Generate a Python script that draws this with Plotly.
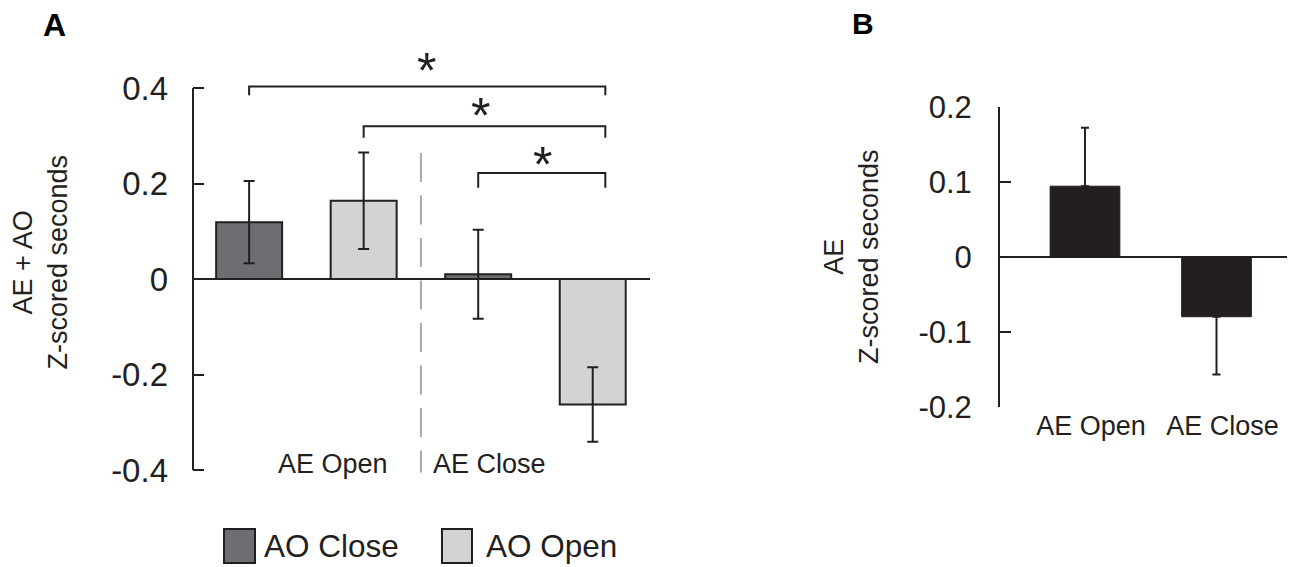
import plotly.graph_objects as go

# ---------------- data ----------------
groups = ["AE Open", "AE Close"]
ao_close = [0.119, 0.010]
ao_close_err = [0.086, 0.093]
ao_open = [0.164, -0.263]
ao_open_err = [0.101, 0.078]

b_categories = ["AE Open", "AE Close"]
b_values = [0.094, -0.080]
b_err_plus = [0.078, 0.0]
b_err_minus = [0.0, 0.077]

# significance brackets (left x, top y, drop y) in panel-A data coords
bracket_left = [-0.25, 0.25, 0.75]
bracket_right = 1.305
bracket_top = [0.403, 0.320, 0.222]
bracket_drop = [0.385, 0.296, 0.191]
star_x = [0.523, 0.759, 1.03]
star_y = [0.452, 0.358, 0.255]

yticks_a = [-0.4, -0.2, 0, 0.2, 0.4]
yticks_a_text = ["-0.4", "-0.2", "0", "0.2", "0.4"]
yticks_b = [-0.2, -0.1, 0, 0.1, 0.2]
yticks_b_text = ["-0.2", "-0.1", "0", "0.1", "0.2"]

# ---------------- style ----------------
INK = "#231f20"
DARK = "#6d6e71"
LIGHT = "#d1d3d4"
FONT = "Liberation Sans, Arial, Helvetica, sans-serif"
OFF = 8                      # default page body margin
W, H = 1295 - OFF, 567 - OFF  # figure size so that it fills the window


def px_x(p):
    return (p - OFF) / W


def px_y(p):
    return 1 - (p - OFF) / H


# panel A vertical mapping: value 0 at pixel 279, 477.5 px per unit
A_RANGE = [-0.41, 0.48]
A_TOP = 279 - A_RANGE[1] * 477.5
A_BOT = 279 - A_RANGE[0] * 477.5

fig = go.Figure()

fig.add_trace(go.Bar(
    name="AO Close", x=groups, y=ao_close,
    marker=dict(color=DARK, line=dict(color=INK, width=2)),
    error_y=dict(type="data", array=ao_close_err, color=INK, thickness=2, width=5.5),
    xaxis="x", yaxis="y", showlegend=False,
))
fig.add_trace(go.Bar(
    name="AO Open", x=groups, y=ao_open,
    marker=dict(color=LIGHT, line=dict(color=INK, width=2)),
    error_y=dict(type="data", array=ao_open_err, color=INK, thickness=2, width=5.5),
    xaxis="x", yaxis="y", showlegend=False,
))
fig.add_trace(go.Bar(
    name="AE", x=b_categories, y=b_values, width=0.53,
    marker=dict(color=INK, line=dict(color=INK, width=1)),
    error_y=dict(type="data", symmetric=False, array=b_err_plus, arrayminus=b_err_minus,
                 color=INK, thickness=2, width=4),
    xaxis="x2", yaxis="y2", showlegend=False,
))

shapes = []
# left axis line of panel A (from -0.4 to 0.4)
shapes.append(dict(type="line", xref="x domain", yref="y", x0=0, x1=0, y0=-0.4, y1=0.4,
                   line=dict(color=INK, width=2)))
# dashed divider (drawn top to bottom so the dash pattern starts at the top)
shapes.append(dict(type="line", xref="x", yref="y", x0=0.5, x1=0.5, y0=0.264, y1=-0.405,
                   line=dict(color="#a7a9ac", width=2, dash="29px,13.5px")))
# brackets
for xl, yt, yd in zip(bracket_left, bracket_top, bracket_drop):
    shapes.append(dict(type="path", xref="x", yref="y",
                       path=f"M {xl},{yd} L {xl},{yt} L {bracket_right},{yt} L {bracket_right},{yd}",
                       line=dict(color=INK, width=2)))

# legend swatches (paper coords)
shapes.append(dict(type="rect", xref="paper", yref="paper",
                   x0=px_x(224), x1=px_x(255), y0=px_y(563), y1=px_y(529),
                   fillcolor=DARK, line=dict(color=INK, width=2)))
shapes.append(dict(type="rect", xref="paper", yref="paper",
                   x0=px_x(442), x1=px_x(472), y0=px_y(563), y1=px_y(529),
                   fillcolor=LIGHT, line=dict(color=INK, width=2)))

annotations = []
for sx, sy in zip(star_x, star_y):
    annotations.append(dict(x=sx, y=sy, xref="x", yref="y", text="*", showarrow=False,
                            xanchor="center", yanchor="middle",
                            font=dict(size=50, color=INK, family=FONT), yshift=-8))
annotations.append(dict(x=0.117, y=-0.387, xref="x", yref="y", text=groups[0], showarrow=False,
                        xanchor="center", yanchor="middle",
                        font=dict(size=27, color=INK, family=FONT)))
annotations.append(dict(x=0.80, y=-0.387, xref="x", yref="y", text=groups[1], showarrow=False,
                        xanchor="center", yanchor="middle",
                        font=dict(size=27, color=INK, family=FONT)))
annotations.append(dict(x=px_x(262), y=px_y(546), xref="paper", yref="paper", text="AO Close",
                        xanchor="left", yanchor="middle", showarrow=False,
                        font=dict(size=31.5, color=INK, family=FONT)))
annotations.append(dict(x=px_x(484), y=px_y(546), xref="paper", yref="paper", text="AO Open",
                        xanchor="left", yanchor="middle", showarrow=False,
                        font=dict(size=31.5, color=INK, family=FONT)))
annotations.append(dict(x=px_x(54), y=px_y(25), xref="paper", yref="paper", text="<b>A</b>",
                        xanchor="center", yanchor="middle",
                        showarrow=False, font=dict(size=32, color="#000", family=FONT)))
annotations.append(dict(x=px_x(863), y=px_y(24), xref="paper", yref="paper", text="<b>B</b>",
                        xanchor="center", yanchor="middle",
                        showarrow=False, font=dict(size=30, color="#000", family=FONT)))

fig.update_layout(
    width=W, height=H,
    margin=dict(l=0, r=0, t=0, b=0, autoexpand=False),
    paper_bgcolor="white", plot_bgcolor="white",
    barmode="group", bargap=0.0, bargroupgap=0.424,
    font=dict(family=FONT, color=INK),
    shapes=shapes, annotations=annotations,
    xaxis=dict(domain=[px_x(193), px_x(650)], range=[-0.495, 1.5], type="category",
               showticklabels=False, ticks="", showline=False, showgrid=False, zeroline=False,
               anchor="y", automargin=False),
    yaxis=dict(domain=[px_y(A_BOT), px_y(A_TOP)], range=A_RANGE,
               tickvals=yticks_a, ticktext=yticks_a_text, ticks="inside", ticklen=11,
               tickwidth=2, tickcolor=INK, showline=False, showgrid=False,
               zeroline=True, zerolinewidth=2, zerolinecolor=INK,
               ticklabelstandoff=24,
               tickfont=dict(size=33, color=INK, family=FONT),
               title=dict(text="AE + AO<br>Z-scored seconds", standoff=46,
                          font=dict(size=27, color=INK, family=FONT)),
               anchor="x", automargin=False),
    xaxis2=dict(domain=[px_x(1000), px_x(1292)], range=[-0.646, 1.574], type="category",
                ticks="", showline=False, showgrid=False, zeroline=False,
                ticklabelshift=6,
                tickfont=dict(size=27, color=INK, family=FONT), anchor="y2", automargin=False),
    yaxis2=dict(domain=[px_y(406.7), px_y(106.7)], range=[-0.2, 0.2],
                tickvals=yticks_b, ticktext=yticks_b_text, ticks="inside", ticklen=11,
                tickwidth=2, tickcolor=INK, showline=True, linewidth=2, linecolor=INK,
                showgrid=False, zeroline=True, zerolinewidth=2, zerolinecolor=INK,
                ticklabelstandoff=20,
                tickfont=dict(size=31, color=INK, family=FONT),
                title=dict(text="AE<br>Z-scored seconds", standoff=32,
                           font=dict(size=27, color=INK, family=FONT)),
                anchor="x2", automargin=False),
)

fig.write_html("out.html")
